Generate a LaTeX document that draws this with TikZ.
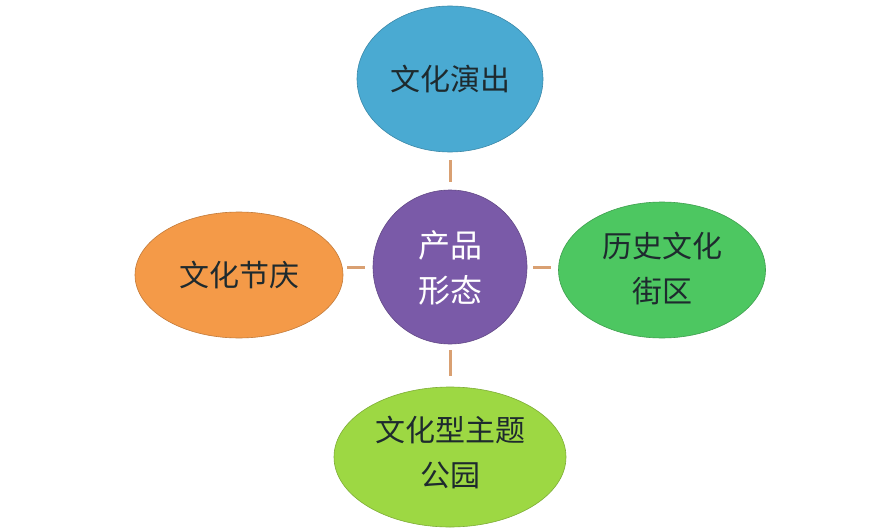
\documentclass[tikz,border=0pt]{standalone}
\usepackage{fontspec}
\newfontfamily\cjk{Noto Sans CJK SC}
\usetikzlibrary{shapes.geometric}
\definecolor{cblue}{HTML}{4AAAD2}
\definecolor{cpurple}{HTML}{7A5AA8}
\definecolor{corange}{HTML}{F49A48}
\definecolor{cgreen}{HTML}{4DC761}
\definecolor{clime}{HTML}{9DD843}
\definecolor{cline}{HTML}{D9A072}
\definecolor{ctext}{HTML}{1E2A2E}
\tikzset{
  blob/.style={ellipse, draw=#1!80!black, line width=0.6pt, fill=#1, inner sep=0pt},
  lbl/.style={font=\cjk\fontsize{30}{45}\selectfont, text=ctext, align=center},
  link/.style={draw=cline, line width=3pt}
}
\begin{document}
\begin{tikzpicture}[x=1pt,y=-1pt]
\useasboundingbox (0,0) rectangle (896,532);
\fill[white] (0,0) rectangle (896,532);
\node[blob=cblue, minimum width=186pt, minimum height=146pt] (top) at (450,79) {};
\node[blob=cpurple, circle, minimum size=154pt] (mid) at (450,267) {};
\node[blob=corange, minimum width=208pt, minimum height=126pt] (left) at (239,275) {};
\node[blob=cgreen, minimum width=207pt, minimum height=136pt] (right) at (662,270) {};
\node[blob=clime, minimum width=232pt, minimum height=140pt] (bot) at (450,457) {};
\node[lbl] (ttop) at (top.center) {文化演出};
\node[lbl, text=white, font=\cjk\fontsize{32}{45}\selectfont] (tmid) at (450,268) {产品\\形态};
\node[lbl] (tleft) at (left.center) {文化节庆};
\node[lbl] (tright) at (662,269) {历史文化\\街区};
\node[lbl] (tbot) at (450,452) {文化型主题\\公园};
\coordinate (a1) at ([yshift=-8pt]top.south);
\coordinate (a2) at ([yshift=8pt]mid.north);
\coordinate (b1) at ([yshift=-6pt]mid.south);
\coordinate (b2) at ([yshift=11pt]bot.north);
\coordinate (c1) at ([xshift=-8pt]mid.west);
\coordinate (c2) at ([xshift=-26pt]mid.west);
\coordinate (d1) at ([xshift=6pt]mid.east);
\coordinate (d2) at ([xshift=24pt]mid.east);
\draw[link] (a1) -- (a2);
\draw[link] (b1) -- (b2);
\draw[link] (c1) -- (c2);
\draw[link] (d1) -- (d2);
\end{tikzpicture}
\end{document}
